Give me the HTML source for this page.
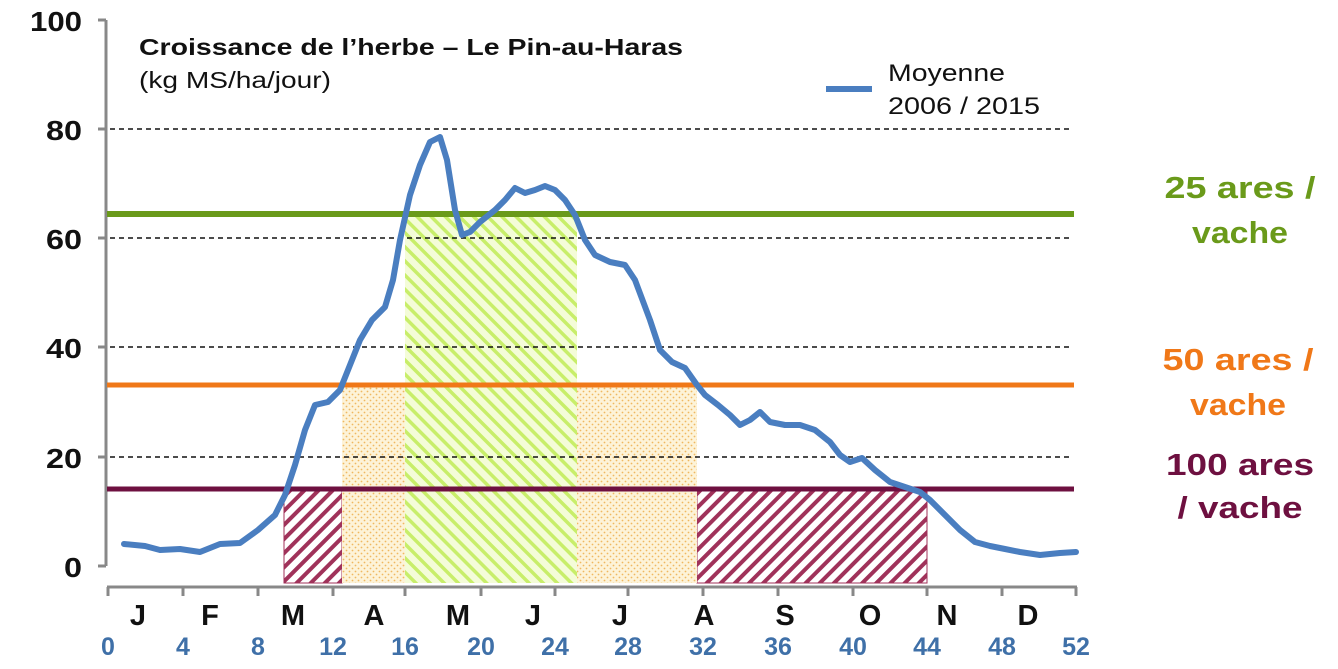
<!DOCTYPE html>
<html><head><meta charset="utf-8"><style>body{margin:0;background:#fff}svg{display:block}</style></head>
<body>
<svg width="1338" height="669" viewBox="0 0 1338 669" xmlns="http://www.w3.org/2000/svg" font-family="Liberation Sans, Arial, sans-serif">
<defs>
<pattern id="hm" width="10" height="10" patternUnits="userSpaceOnUse" patternTransform="rotate(45)"><rect width="10" height="10" fill="#fff"/><rect width="4" height="10" fill="#a0325a"/></pattern>
<pattern id="hg" width="10" height="10" patternUnits="userSpaceOnUse" patternTransform="rotate(-45)"><rect width="10" height="10" fill="#f4fcd8"/><rect width="3.5" height="10" fill="#c8ee6a"/></pattern>
<pattern id="dot" width="6" height="6" patternUnits="userSpaceOnUse"><rect width="6" height="6" fill="#fdf3d8"/><circle cx="1.5" cy="1.5" r="0.9" fill="#f0b860"/><circle cx="4.5" cy="4.5" r="0.9" fill="#f0b860"/></pattern>
</defs>
<rect x="284" y="489" width="58" height="94" fill="url(#hm)" stroke="#a0325a" stroke-width="1"/>
<rect x="697" y="489" width="230" height="94" fill="url(#hm)" stroke="#a0325a" stroke-width="1"/>
<rect x="342" y="385" width="63" height="198" fill="url(#dot)"/>
<rect x="577" y="385" width="120" height="198" fill="url(#dot)"/>
<rect x="405" y="214" width="172" height="369" fill="url(#hg)"/>
<g stroke="#111" stroke-width="1.4" stroke-dasharray="5,4">
<line x1="110" y1="129" x2="1072" y2="129"/><line x1="110" y1="238" x2="1072" y2="238"/><line x1="110" y1="347" x2="1072" y2="347"/><line x1="110" y1="457" x2="1072" y2="457"/>
</g>
<line x1="106" y1="20" x2="106" y2="566" stroke="#888" stroke-width="3"/>
<g stroke="#888" stroke-width="3"><line x1="98" y1="20" x2="106" y2="20"/><line x1="98" y1="129" x2="106" y2="129"/><line x1="98" y1="238" x2="106" y2="238"/><line x1="98" y1="347" x2="106" y2="347"/><line x1="98" y1="457" x2="106" y2="457"/><line x1="98" y1="566" x2="106" y2="566"/></g>
<line x1="107" y1="587" x2="1077" y2="587" stroke="#888" stroke-width="3"/>
<g stroke="#888" stroke-width="3">
<line x1="108" y1="587" x2="108" y2="596"/><line x1="183" y1="587" x2="183" y2="596"/><line x1="258" y1="587" x2="258" y2="596"/><line x1="333" y1="587" x2="333" y2="596"/><line x1="405" y1="587" x2="405" y2="596"/><line x1="481" y1="587" x2="481" y2="596"/><line x1="555" y1="587" x2="555" y2="596"/><line x1="628" y1="587" x2="628" y2="596"/><line x1="703" y1="587" x2="703" y2="596"/><line x1="778" y1="587" x2="778" y2="596"/><line x1="853" y1="587" x2="853" y2="596"/><line x1="927" y1="587" x2="927" y2="596"/><line x1="1002" y1="587" x2="1002" y2="596"/><line x1="1076" y1="587" x2="1076" y2="596"/>
</g>
<line x1="107" y1="214" x2="1074" y2="214" stroke="#6a9a1a" stroke-width="6"/>
<line x1="107" y1="385" x2="1074" y2="385" stroke="#f07818" stroke-width="5"/>
<line x1="107" y1="489" x2="1074" y2="489" stroke="#6e1040" stroke-width="5"/>
<polyline fill="none" stroke="#4a7ec0" stroke-width="6" stroke-linejoin="round" stroke-linecap="round" points="124,544 145,546 160,550 180,549 200,552 220,544 240,543 258,530 275,515 285,495 295,465 305,430 315,405 328,402 340,390 350,365 360,340 372,320 385,307 393,280 400,240 410,195 420,165 430,142 440,137 447,160 455,210 462,235 470,232 480,222 495,210 505,200 515,188 525,193 535,190 545,186 555,190 565,200 575,215 585,240 595,255 610,262 625,265 635,280 650,320 660,350 672,362 685,368 697,385 705,395 718,405 730,415 740,425 750,420 760,412 770,422 785,425 800,425 815,430 830,442 840,455 850,462 862,458 875,470 890,482 905,487 920,492 930,500 945,515 960,530 975,542 990,546 1005,549 1020,552 1040,555 1060,553 1076,552"/>
<g font-weight="bold" font-size="28" fill="#111" text-anchor="end">
<text x="82" y="31" textLength="52" lengthAdjust="spacingAndGlyphs">100</text><text x="82" y="140" textLength="36" lengthAdjust="spacingAndGlyphs">80</text><text x="82" y="249" textLength="36" lengthAdjust="spacingAndGlyphs">60</text><text x="82" y="358" textLength="36" lengthAdjust="spacingAndGlyphs">40</text><text x="82" y="468" textLength="36" lengthAdjust="spacingAndGlyphs">20</text><text x="82" y="577" textLength="18" lengthAdjust="spacingAndGlyphs">0</text>
</g>
<g font-weight="bold" font-size="29" fill="#111" text-anchor="middle">
<text x="138" y="625">J</text><text x="210" y="625">F</text><text x="293" y="625">M</text><text x="374" y="625">A</text><text x="458" y="625">M</text><text x="533" y="625">J</text><text x="620" y="625">J</text><text x="704" y="625">A</text><text x="785" y="625">S</text><text x="870" y="625">O</text><text x="947" y="625">N</text><text x="1028" y="625">D</text>
</g>
<g font-weight="bold" font-size="25" fill="#3f70a8" text-anchor="middle">
<text x="108" y="655">0</text><text x="183" y="655">4</text><text x="258" y="655">8</text><text x="333" y="655">12</text><text x="405" y="655">16</text><text x="481" y="655">20</text><text x="555" y="655">24</text><text x="628" y="655">28</text><text x="703" y="655">32</text><text x="778" y="655">36</text><text x="853" y="655">40</text><text x="927" y="655">44</text><text x="1002" y="655">48</text><text x="1076" y="655">52</text>
</g>
<text x="139" y="55" font-size="23" font-weight="bold" fill="#111" textLength="544" lengthAdjust="spacingAndGlyphs">Croissance de l’herbe – Le Pin-au-Haras</text>
<text x="139" y="88" font-size="23" fill="#111" textLength="192" lengthAdjust="spacingAndGlyphs">(kg MS/ha/jour)</text>
<line x1="826" y1="89" x2="872" y2="89" stroke="#4a7ec0" stroke-width="6"/>
<text x="888" y="81" font-size="24" fill="#111" textLength="117" lengthAdjust="spacingAndGlyphs">Moyenne</text>
<text x="888" y="114" font-size="24" fill="#111" textLength="152" lengthAdjust="spacingAndGlyphs">2006 / 2015</text>
<g font-weight="bold" font-size="31" text-anchor="middle">
<text x="1240" y="198" fill="#6a9a1a" textLength="151" lengthAdjust="spacingAndGlyphs">25 ares /</text><text x="1240" y="243" fill="#6a9a1a" textLength="96" lengthAdjust="spacingAndGlyphs">vache</text>
<text x="1238" y="370" fill="#f07818" textLength="151" lengthAdjust="spacingAndGlyphs">50 ares /</text><text x="1238" y="415" fill="#f07818" textLength="96" lengthAdjust="spacingAndGlyphs">vache</text>
<text x="1240" y="475" fill="#6e1040" textLength="148" lengthAdjust="spacingAndGlyphs">100 ares</text><text x="1240" y="518" fill="#6e1040" textLength="125" lengthAdjust="spacingAndGlyphs">/ vache</text>
</g>
</svg>
</body></html>
